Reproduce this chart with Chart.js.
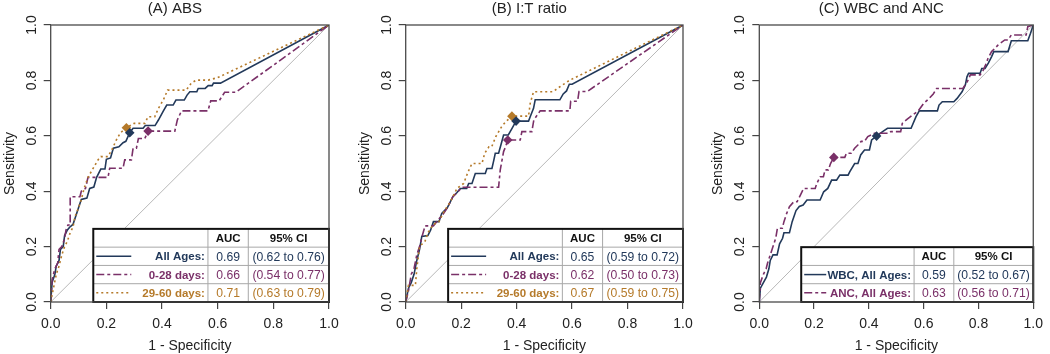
<!DOCTYPE html>
<html>
<head>
<meta charset="utf-8">
<script src="https://cdn.jsdelivr.net/npm/chart.js@4.4.1/dist/chart.umd.min.js"></script>
<style>
body { margin: 0; background: #fff; width: 1050px; height: 354px; overflow: hidden; position: relative; }
.panel { position: absolute; top: 0; width: 350px; height: 354px; }
</style>
</head>
<body>
<div class="panel" style="left:0px"><canvas id="chartA" width="350" height="354"></canvas></div>
<div class="panel" style="left:350px"><canvas id="chartB" width="350" height="354"></canvas></div>
<div class="panel" style="left:700px"><canvas id="chartC" width="350" height="354"></canvas></div>
<script>
// warna kurva
const navy = '#22395a';
const plum = '#7a3068';
const gold = '#b57a2a';
const FONT = '"Liberation Sans", Arial, sans-serif';

// titik ROC: [1 - specificity, sensitivity]
const absAll = [[0,0],[0.005,0.07],[0.015,0.1],[0.02,0.13],[0.03,0.15],[0.035,0.19],[0.045,0.2],[0.05,0.24],[0.06,0.26],[0.068,0.27],[0.08,0.28],[0.09,0.31],[0.1,0.34],[0.11,0.37],[0.13,0.375],[0.14,0.41],[0.155,0.415],[0.165,0.45],[0.18,0.48],[0.195,0.48],[0.2,0.515],[0.215,0.52],[0.225,0.555],[0.245,0.56],[0.26,0.575],[0.27,0.58],[0.284,0.611],[0.296,0.627],[0.332,0.627],[0.34,0.637],[0.375,0.637],[0.387,0.657],[0.405,0.69],[0.417,0.711],[0.44,0.711],[0.45,0.729],[0.48,0.729],[0.49,0.747],[0.5,0.759],[0.525,0.759],[0.53,0.771],[0.555,0.771],[0.566,0.781],[0.58,0.781],[0.585,0.79],[0.61,0.79],[1,1]];
const abs028 = [[0,0],[0.005,0.08],[0.015,0.12],[0.025,0.14],[0.03,0.19],[0.04,0.2],[0.05,0.23],[0.055,0.26],[0.062,0.278],[0.07,0.278],[0.07,0.38],[0.105,0.38],[0.11,0.4],[0.125,0.41],[0.134,0.45],[0.206,0.45],[0.212,0.483],[0.26,0.483],[0.266,0.513],[0.29,0.513],[0.296,0.555],[0.308,0.555],[0.315,0.59],[0.338,0.59],[0.35,0.617],[0.446,0.617],[0.455,0.657],[0.47,0.69],[0.565,0.69],[0.575,0.726],[0.605,0.726],[0.625,0.757],[0.665,0.757],[1,1]];
const abs2960 = [[0,0],[0.01,0.05],[0.02,0.1],[0.03,0.13],[0.04,0.17],[0.05,0.2],[0.06,0.22],[0.07,0.25],[0.08,0.27],[0.088,0.31],[0.1,0.34],[0.11,0.37],[0.12,0.41],[0.134,0.45],[0.15,0.478],[0.17,0.513],[0.18,0.525],[0.206,0.525],[0.22,0.55],[0.236,0.585],[0.25,0.61],[0.272,0.629],[0.3,0.645],[0.338,0.645],[0.35,0.669],[0.374,0.669],[0.387,0.699],[0.405,0.73],[0.42,0.765],[0.487,0.765],[0.505,0.79],[0.523,0.801],[0.566,0.801],[0.6,0.81],[1,1]];

const itAll = [[0,0],[0.01,0.05],[0.02,0.07],[0.03,0.1],[0.04,0.15],[0.05,0.19],[0.058,0.237],[0.08,0.24],[0.09,0.26],[0.1,0.29],[0.12,0.29],[0.13,0.32],[0.14,0.33],[0.15,0.34],[0.16,0.36],[0.17,0.38],[0.185,0.395],[0.197,0.41],[0.22,0.41],[0.227,0.428],[0.239,0.428],[0.251,0.464],[0.287,0.464],[0.293,0.482],[0.311,0.482],[0.318,0.513],[0.323,0.537],[0.335,0.537],[0.345,0.573],[0.353,0.603],[0.37,0.603],[0.383,0.626],[0.398,0.653],[0.443,0.653],[0.449,0.669],[0.461,0.699],[0.467,0.73],[0.556,0.73],[0.568,0.751],[0.58,0.762],[0.59,0.786],[0.6,0.786],[1,1]];
const it028 = [[0,0],[0.01,0.04],[0.02,0.1],[0.03,0.12],[0.04,0.17],[0.05,0.2],[0.06,0.24],[0.07,0.275],[0.1,0.275],[0.12,0.3],[0.13,0.31],[0.15,0.34],[0.17,0.38],[0.19,0.4],[0.203,0.414],[0.335,0.414],[0.341,0.477],[0.353,0.543],[0.36,0.56],[0.368,0.585],[0.413,0.585],[0.419,0.615],[0.455,0.615],[0.462,0.657],[0.485,0.69],[0.592,0.69],[0.595,0.725],[0.62,0.725],[0.625,0.76],[0.655,0.76],[1,1]];
const it2960 = [[0,0],[0.01,0.06],[0.035,0.06],[0.04,0.12],[0.05,0.2],[0.07,0.22],[0.08,0.25],[0.1,0.28],[0.12,0.29],[0.14,0.33],[0.16,0.36],[0.185,0.41],[0.209,0.428],[0.225,0.47],[0.239,0.5],[0.275,0.5],[0.285,0.537],[0.3,0.56],[0.31,0.56],[0.325,0.597],[0.346,0.633],[0.36,0.65],[0.383,0.671],[0.443,0.671],[0.449,0.717],[0.461,0.759],[0.531,0.759],[0.556,0.777],[0.574,0.789],[0.59,0.8],[1,1]];

const wbcAll = [[0,0],[0.004,0.05],[0.015,0.07],[0.026,0.09],[0.035,0.12],[0.04,0.15],[0.05,0.17],[0.065,0.17],[0.074,0.21],[0.085,0.23],[0.09,0.25],[0.11,0.25],[0.12,0.29],[0.134,0.33],[0.146,0.345],[0.16,0.35],[0.174,0.368],[0.222,0.368],[0.235,0.398],[0.25,0.41],[0.264,0.44],[0.282,0.44],[0.294,0.458],[0.324,0.458],[0.33,0.47],[0.348,0.5],[0.36,0.5],[0.37,0.531],[0.384,0.549],[0.402,0.549],[0.41,0.585],[0.428,0.599],[0.45,0.615],[0.468,0.627],[0.554,0.627],[0.572,0.669],[0.584,0.69],[0.65,0.69],[0.656,0.711],[0.668,0.723],[0.71,0.723],[0.722,0.735],[0.74,0.759],[0.752,0.783],[0.758,0.813],[0.764,0.826],[0.806,0.826],[0.812,0.843],[0.824,0.843],[0.836,0.862],[0.848,0.886],[0.856,0.904],[0.908,0.904],[0.92,0.943],[0.98,0.943],[0.99,0.97],[1,1]];
const ancAll = [[0,0],[0.004,0.07],[0.015,0.1],[0.025,0.12],[0.03,0.14],[0.04,0.17],[0.05,0.2],[0.06,0.23],[0.066,0.266],[0.084,0.266],[0.09,0.29],[0.1,0.32],[0.11,0.344],[0.126,0.362],[0.138,0.362],[0.15,0.386],[0.162,0.41],[0.204,0.41],[0.21,0.428],[0.222,0.452],[0.234,0.452],[0.24,0.477],[0.252,0.477],[0.26,0.5],[0.272,0.522],[0.312,0.522],[0.318,0.537],[0.336,0.537],[0.348,0.555],[0.36,0.567],[0.372,0.58],[0.384,0.58],[0.396,0.597],[0.42,0.609],[0.474,0.609],[0.48,0.615],[0.516,0.615],[0.522,0.645],[0.54,0.66],[0.56,0.675],[0.58,0.69],[0.6,0.717],[0.62,0.735],[0.635,0.751],[0.647,0.771],[0.743,0.771],[0.755,0.789],[0.764,0.804],[0.77,0.82],[0.806,0.82],[0.818,0.838],[0.826,0.856],[0.835,0.88],[0.848,0.904],[0.872,0.928],[0.896,0.946],[0.908,0.946],[0.92,0.964],[0.974,0.964],[0.98,0.994],[1,1]];

// titik cut-off (diamond)
const absCut = [[0.284,0.611],[0.35,0.617],[0.272,0.629]];
const itCut = [[0.398,0.653],[0.368,0.585],[0.383,0.671]];
const wbcAncCut = [[0.428,0.599],[0.272,0.522]];

// isi tabel legenda
const absLabels = ['All Ages:', '0-28 days:', '29-60 days:'];
const absAuc = ['0.69', '0.66', '0.71'];
const absCi = ['(0.62 to 0.76)', '(0.54 to 0.77)', '(0.63 to 0.79)'];
const itLabels = ['All Ages:', '0-28 days:', '29-60 days:'];
const itAuc = ['0.65', '0.62', '0.67'];
const itCi = ['(0.59 to 0.72)', '(0.50 to 0.73)', '(0.59 to 0.75)'];
const cLabels = ['WBC, All Ages:', 'ANC, All Ages:'];
const cAuc = ['0.59', '0.63'];
const cCi = ['(0.52 to 0.67)', '(0.56 to 0.71)'];

const diagonal = [[0,0],[1,1]];
const solid = [], dashDot = [8,3,3,3], dotted = [2,3];

const toXY = arr => arr.map(p => ({x: p[0], y: p[1]}));

function makePanel(id, p) {
    const datasets = [];
    datasets.push({ data: toXY(diagonal), showLine: true, borderColor: '#b8b8b8', borderWidth: 1, pointRadius: 0, order: 10 });
    p.curves.forEach((c, i) => {
        datasets.push({ data: toXY(c), showLine: true, borderColor: p.colors[i], borderWidth: 1.6,
            borderDash: p.dashes[i], pointRadius: 0, tension: 0, order: 5 - i });
    });
    p.cuts.forEach((c, i) => {
        datasets.push({ data: toXY([c]), showLine: false, pointStyle: 'rectRot', pointRadius: 4.8,
            backgroundColor: p.colors[i], borderColor: p.colors[i], borderWidth: 0, order: 0 });
    });

    // gambar bingkai, judul, label sumbu dan tabel
    const decor = {
        id: 'decor' + id,
        afterDatasetsDraw(chart) {
            const ctx = chart.ctx, a = chart.chartArea;
            const xs = chart.scales.x, ys = chart.scales.y;
            ctx.save();
            // tabel
            const L = xs.getPixelForValue(0.153), C1 = xs.getPixelForValue(0.565),
                  C2 = xs.getPixelForValue(0.71), R = xs.getPixelForValue(1);
            const B = ys.getPixelForValue(0);
            const rowH = ys.getPixelForValue(0) - ys.getPixelForValue(0.066);
            const n = p.labels.length + 1;
            const T = B - n * rowH;
            ctx.fillStyle = '#fff';
            ctx.fillRect(L, T, R - L, B - T);
            ctx.strokeStyle = '#a8a8a8';
            ctx.lineWidth = 1;
            ctx.beginPath();
            for (let i = 1; i < n; i++) {
                ctx.moveTo(L, T + i * rowH); ctx.lineTo(R, T + i * rowH);
            }
            ctx.moveTo(C1, T); ctx.lineTo(C1, B);
            ctx.moveTo(C2, T); ctx.lineTo(C2, B);
            ctx.stroke();
            ctx.strokeStyle = '#111';
            ctx.lineWidth = 2;
            ctx.strokeRect(L, T, R - L, B - T);
            ctx.textBaseline = 'middle';
            ctx.textAlign = 'center';
            ctx.fillStyle = '#111';
            ctx.font = 'bold 11.5px ' + FONT;
            ctx.fillText('AUC', (C1 + C2) / 2, T + rowH / 2 + 1);
            ctx.fillText('95% CI', (C2 + R) / 2, T + rowH / 2 + 1);
            p.labels.forEach((lab, i) => {
                const cy = T + (i + 1.5) * rowH;
                ctx.setLineDash(p.dashes[i]);
                ctx.strokeStyle = p.colors[i];
                ctx.lineWidth = 1.5;
                ctx.beginPath();
                ctx.moveTo(L + 3, cy); ctx.lineTo(L + 3 + p.sampleLen, cy);
                ctx.stroke();
                ctx.setLineDash([]);
                ctx.fillStyle = p.colors[i];
                ctx.font = 'bold 11.5px ' + FONT;
                ctx.textAlign = 'right';
                ctx.fillText(lab, C1 - 3, cy + 1);
                ctx.font = '12.2px ' + FONT;
                ctx.textAlign = 'center';
                ctx.fillText(p.auc[i], (C1 + C2) / 2, cy + 1);
                ctx.fillText(p.ci[i], (C2 + R) / 2, cy + 1);
            });
            // bingkai plot
            ctx.strokeStyle = '#4a4a4a';
            ctx.lineWidth = 1.3;
            ctx.strokeRect(a.left, a.top, a.right - a.left, a.bottom - a.top);
            // label tick sumbu y (diputar)
            ctx.fillStyle = '#222';
            ctx.font = '14px ' + FONT;
            ctx.textAlign = 'center';
            ys.ticks.forEach(t => {
                ctx.save();
                ctx.translate(a.left - 19, ys.getPixelForValue(t.value));
                ctx.rotate(-Math.PI / 2);
                ctx.fillText(t.value.toFixed(1), 0, 0);
                ctx.restore();
            });
            // judul sumbu
            ctx.save();
            ctx.translate(a.left - 41, (a.top + a.bottom) / 2);
            ctx.rotate(-Math.PI / 2);
            ctx.fillText('Sensitivity', 0, 0);
            ctx.restore();
            ctx.fillText('1 - Specificity', (a.left + a.right) / 2, 346.5);
            // judul panel
            ctx.font = '15px ' + FONT;
            ctx.fillText(p.title, (a.left + a.right) / 2 - 15, 9);
            ctx.restore();
        }
    };

    const axisBase = {
        type: 'linear', min: 0, max: 1,
        border: { display: false },
        grid: { drawOnChartArea: false, drawTicks: true, tickLength: 7, color: '#444', lineWidth: 1.2 },
    };

    return new Chart(document.getElementById(id), {
        type: 'scatter',
        data: { datasets: datasets },
        options: {
            responsive: false,
            animation: false,
            layout: { padding: { top: 25, right: p.padRight, left: 0, bottom: 0 } },
            plugins: { legend: { display: false }, tooltip: { enabled: false } },
            scales: {
                x: Object.assign({}, axisBase, {
                    afterFit: s => { s.height = 52; },
                    ticks: { stepSize: 0.2, padding: 7, maxRotation: 0, autoSkip: false, color: '#222',
                        font: { family: FONT, size: 14 }, callback: v => v.toFixed(1) }
                }),
                y: Object.assign({}, axisBase, {
                    afterFit: s => { s.width = p.leftW; },
                    ticks: { stepSize: 0.2, color: 'rgba(0,0,0,0)', font: { family: FONT, size: 14 } }
                })
            }
        },
        plugins: [decor]
    });
}

makePanel('chartA', {
    title: '(A) ABS', leftW: 50.7, padRight: 21,
    curves: [absAll, abs028, abs2960], cuts: absCut,
    colors: [navy, plum, gold], dashes: [solid, dashDot, dotted],
    labels: absLabels, auc: absAuc, ci: absCi, sampleLen: 35
});
makePanel('chartB', {
    title: '(B) I:T ratio', leftW: 55.7, padRight: 17,
    curves: [itAll, it028, it2960], cuts: itCut,
    colors: [navy, plum, gold], dashes: [solid, dashDot, dotted],
    labels: itLabels, auc: itAuc, ci: itCi, sampleLen: 35
});
makePanel('chartC', {
    title: '(C) WBC and ANC', leftW: 59.3, padRight: 12.7,
    curves: [wbcAll, ancAll], cuts: wbcAncCut,
    colors: [navy, plum], dashes: [solid, dashDot],
    labels: cLabels, auc: cAuc, ci: cCi, sampleLen: 22
});
</script>
</body>
</html>
